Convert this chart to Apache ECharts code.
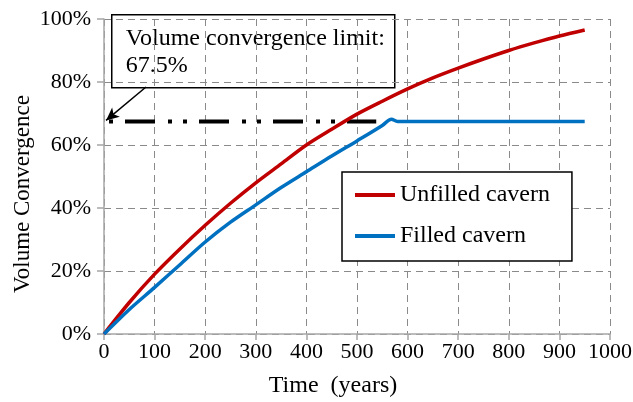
<!DOCTYPE html>
<html>
<head>
<meta charset="utf-8">
<script src="https://cdn.jsdelivr.net/npm/echarts@6/dist/echarts.min.js"></script>
<style>
html,body{margin:0;padding:0;background:#fff;}
#chart{width:633px;height:402px;}
</style>
</head>
<body>
<div id="chart"></div>
<script>
// ---- data ----
var unfilledYears  = [0, 50, 100, 150, 200, 250, 300, 350, 400, 450, 500, 550, 600, 650, 700, 750, 800, 850, 900, 950];
var unfilledValues = [0, 10, 19, 27, 34.5, 41.5, 48, 54, 60, 65, 69.8, 73.9, 77.8, 81.3, 84.4, 87.3, 90, 92.4, 94.6, 96.5];
var filledYears    = [0, 50, 100, 150, 200, 250, 300, 350, 400, 450, 500, 550, 568, 580, 600, 700, 800, 900, 950];
var filledValues   = [0, 7.8, 14.8, 22, 29.2, 35.5, 41, 46.5, 51.5, 56.5, 61.3, 66.2, 68.2, 67.5, 67.5, 67.5, 67.5, 67.5, 67.5];
var limitYears     = [0, 538];
var limitValue     = 67.5;
var arrowFrom      = [83, 78.4];
var arrowTo        = [4, 67.8];
var xTicks = {min: 0, max: 1000, interval: 100};
var yTicks = {min: 0, max: 100, interval: 20};
var seriesNames = ['Unfilled cavern', 'Filled cavern'];
var annotationText = 'Volume convergence limit:\n67.5%';
var xName = 'Time  (years)';
var yName = 'Volume Convergence';

function pairs(xs, ys) { return xs.map(function (x, i) { return [x, ys[i]]; }); }

var FONT = '"Liberation Serif", "Times New Roman", serif';
var chart = echarts.init(document.getElementById('chart'), null, {renderer: 'canvas'});

var gridLine = {show: true, lineStyle: {color: '#8a8a8a', width: 1, type: [7, 5]}};
var axisLine = {show: true, lineStyle: {color: '#a6a6a6', width: 1.5}};

chart.setOption({
  animation: false,
  backgroundColor: '#ffffff',
  grid: {left: 104, right: 23, top: 19, bottom: 68, containLabel: false, outerBoundsMode: 'none'},
  xAxis: {
    type: 'value', min: xTicks.min, max: xTicks.max, interval: xTicks.interval,
    name: xName, nameLocation: 'middle', nameGap: 40,
    nameTextStyle: {fontFamily: FONT, fontSize: 24, color: '#000', padding: [0, 48, 0, 0]},
    axisLine: axisLine,
    axisTick: {show: true, length: 6, lineStyle: {color: '#a6a6a6', width: 1.5}},
    axisLabel: {fontFamily: FONT, fontSize: 22, color: '#000', margin: 7,
                formatter: function (v) { return String(v); }},
    splitLine: gridLine
  },
  yAxis: {
    type: 'value', min: yTicks.min, max: yTicks.max, interval: yTicks.interval,
    name: yName, nameLocation: 'middle', nameGap: 70, nameMoveOverlap: false,
    nameTextStyle: {fontFamily: FONT, fontSize: 23, color: '#000', padding: [0, 35, 0, 0]},
    axisLine: axisLine,
    axisTick: {show: true, length: 7, lineStyle: {color: '#a6a6a6', width: 1.5}},
    axisLabel: {fontFamily: FONT, fontSize: 22, color: '#000', margin: 13, formatter: '{value}%'},
    splitLine: gridLine
  },
  legend: {
    orient: 'vertical', left: 342, top: 172,
    padding: [11, 22, 13, 13], itemGap: 17,
    itemWidth: 40, itemHeight: 4, icon: 'rect',
    borderColor: '#000', borderWidth: 1.5, backgroundColor: '#fff',
    textStyle: {fontFamily: FONT, fontSize: 24, color: '#000', lineHeight: 24},
    data: seriesNames,
    z: 10
  },
  series: [
    {
      name: 'limit', type: 'line', data: pairs(limitYears, [limitValue, limitValue]),
      symbol: 'none', silent: true, z: 3,
      lineStyle: {color: '#000', width: 4, type: [30, 13, 4, 11, 4, 12], dashOffset: 53, cap: 'butt'},
      markLine: {
        silent: true, symbol: ['none', 'arrow'], symbolSize: [9, 13],
        lineStyle: {color: '#000', width: 1.5, type: 'solid'},
        label: {show: false},
        data: [[{coord: arrowFrom}, {coord: arrowTo}]]
      }
    },
    {
      name: seriesNames[0], type: 'line', data: pairs(unfilledYears, unfilledValues),
      symbol: 'none', smooth: 0.3, z: 4,
      lineStyle: {color: '#c00000', width: 3.5}, itemStyle: {color: '#c00000'}
    },
    {
      name: seriesNames[1], type: 'line', data: pairs(filledYears, filledValues),
      symbol: 'none', smooth: 0.3, z: 4,
      lineStyle: {color: '#0070c0', width: 3.5}, itemStyle: {color: '#0070c0'}
    }
  ],
  graphic: [{
    type: 'group', left: 111, top: 14, z: 100,
    children: [
      {type: 'rect', shape: {x: 0, y: 0, width: 283, height: 73},
       style: {fill: '#fff', stroke: '#000', lineWidth: 1.5}},
      {type: 'text', x: 14, y: 10,
       style: {text: annotationText, font: '24px ' + FONT, fill: '#000', lineHeight: 27}}
    ]
  }]
});
</script>
</body>
</html>
